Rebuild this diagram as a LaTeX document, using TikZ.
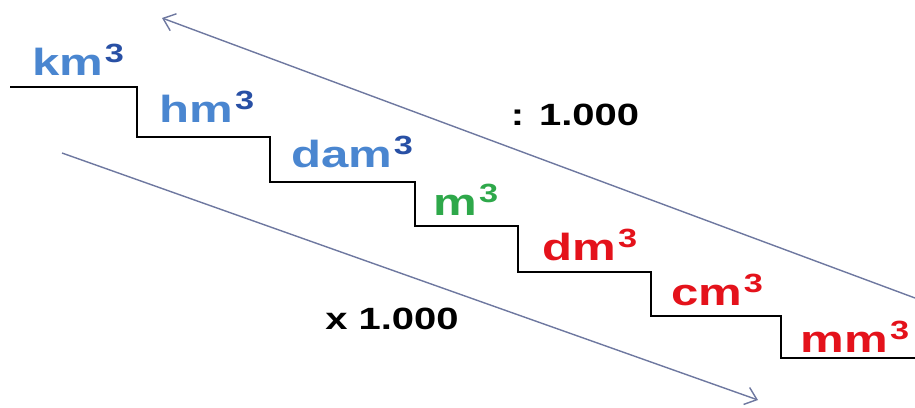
\documentclass[tikz,border=0pt]{standalone}
\usepackage{fontspec}
\setmainfont{Liberation Sans}[FakeStretch=1.3]
\usetikzlibrary{arrows.meta}

\definecolor{azzurro}{RGB}{74,134,208}
\definecolor{bluscuro}{RGB}{40,80,165}
\definecolor{verde}{RGB}{46,168,74}
\definecolor{rosso}{RGB}{228,18,27}
\definecolor{grigioblu}{RGB}{110,120,160}

% unita' con esponente 3
\newcommand{\cubo}[2][.]{#2\kern1pt\raisebox{.34em}{\fontsize{15}{15}\selectfont\color{#1}3}}

\begin{document}
\begin{tikzpicture}[x=0.02cm,y=-0.02cm,
    unita/.style={font=\fontsize{21.5}{21.5}\selectfont\bfseries, anchor=base},
    fattore/.style={font=\fontsize{17.5}{17.5}\selectfont\bfseries, anchor=base},
    freccia/.style={-{Straight Barb[length=2.2mm,width=3.6mm]}, grigioblu, line width=0.8pt},
    scala/.style={black, line width=1.1pt}]
    \useasboundingbox (0,0) rectangle (915,407);

    % Scala delle unita'
    \draw[scala] (10,87) -| (137,137) -| (270,182) -| (415,226) -| (518,272)
        -| (651,316) -| (781,358) -- (915,358);

    \node[unita, azzurro] (km) at (78,75) {\cubo[bluscuro]{km}};
    \node[unita, azzurro] (hm) at (207,122) {\cubo[bluscuro]{hm}};
    \node[unita, azzurro] (dam) at (352,167) {\cubo[bluscuro]{dam}};
    \node[unita, verde] (m) at (466,215) {\cubo{m}};
    \node[unita, rosso] (dm) at (590,260) {\cubo{dm}};
    \node[unita, rosso] (cm) at (717,305) {\cubo{cm}};
    \node[unita, rosso] (mm) at (855,352) {\cubo{mm}};

    % Freccia verso l'alto (divisione)
    \coordinate (D1) at (915,298);
    \coordinate (D2) at (162,18);
    \draw[freccia] (D1) -- (D2);
    \node[fattore] (div) at (575,125) {: 1.000};

    % Freccia verso il basso (moltiplicazione)
    \coordinate (M1) at (62,153);
    \coordinate (M2) at (758,400);
    \draw[freccia] (M1) -- (M2);
    \node[fattore] (mul) at (392,329) {x 1.000};
\end{tikzpicture}
\end{document}
